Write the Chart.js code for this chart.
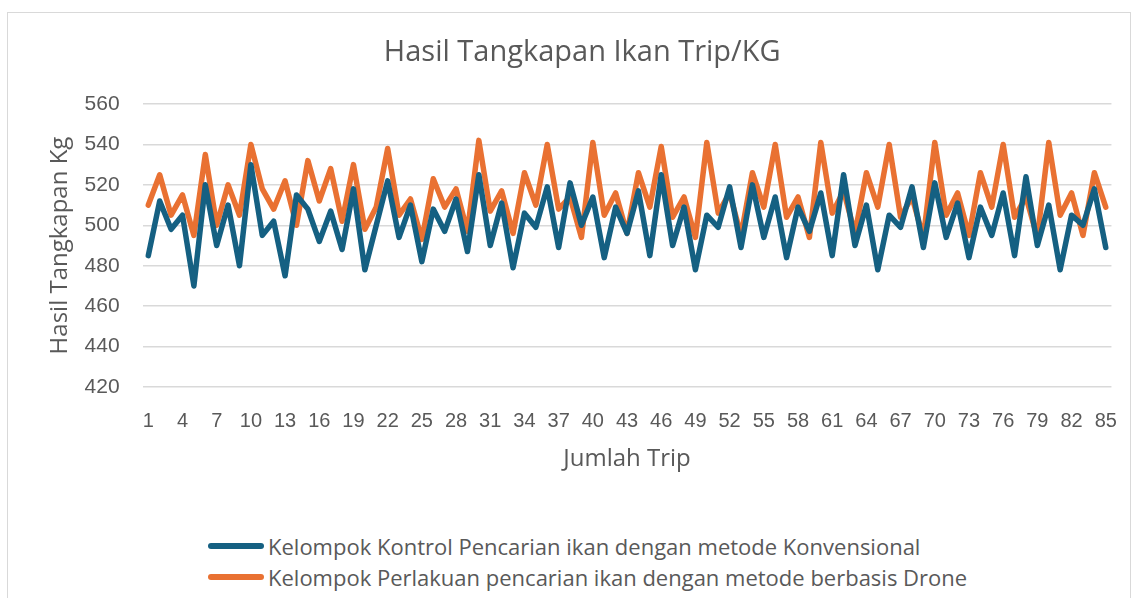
<!DOCTYPE html>
<html>
<head>
<meta charset="utf-8">
<title>Hasil Tangkapan Ikan Trip/KG</title>
<script src="https://cdn.jsdelivr.net/npm/chart.js@4.4.1/dist/chart.umd.min.js"></script>
<style>
  body { margin: 0; background: #fff; width: 1139px; height: 598px; overflow: hidden; position: relative; }
  .frame { position: absolute; left: 7px; top: 12px; width: 1124px; height: 640px; border: 1px solid #d9d9d9; box-sizing: border-box; }
  .chart-box { position: absolute; left: 0; top: 0; width: 1139px; height: 480px; }
  .legend { position: absolute; left: 208px; top: 530px; font-family: "Open Sans", "Liberation Sans", sans-serif; font-size: 22px; color: #595959; }
  .legend .row { display: flex; align-items: center; height: 31px; }
  .legend .swatch { width: 56px; height: 6px; border-radius: 3px; margin-right: 4px; }
</style>
</head>
<body>
<div class="frame"></div>
<div class="chart-box"><canvas id="tripChart"></canvas></div>
<div class="legend" id="legend"></div>

<script>
// Data
const trips = Array.from({ length: 85 }, (_, i) => String(i + 1));

const kontrol = [
  485, 512, 498, 505, 470, 520, 490, 510, 480, 530,
  495, 502, 475, 515, 508, 492, 507, 488, 518, 478,
  500, 522, 494, 510, 482, 508, 497, 513, 487, 525,
  490, 511, 479, 506, 499, 519, 489, 521, 500, 514,
  484, 509, 496, 517, 485, 525, 490, 509, 478, 505,
  499, 519, 489, 520, 494, 514, 484, 509, 497, 516,
  485, 525, 490, 510, 478, 505, 499, 519, 489, 521,
  494, 511, 484, 509, 495, 516, 485, 524, 490, 510,
  478, 505, 500, 518, 489
];

const drone = [
  510, 525, 505, 515, 495, 535, 500, 520, 505, 540,
  518, 508, 522, 500, 532, 512, 528, 502, 530, 498,
  509, 538, 505, 513, 493, 523, 509, 518, 497, 542,
  507, 517, 496, 526, 510, 540, 508, 514, 494, 541,
  505, 516, 496, 526, 509, 539, 504, 514, 494, 541,
  506, 516, 495, 526, 509, 540, 504, 514, 494, 541,
  506, 517, 496, 526, 509, 540, 504, 514, 494, 541,
  505, 516, 495, 526, 509, 540, 504, 514, 494, 541,
  505, 516, 495, 526, 509
];

const yTicks = [420, 440, 460, 480, 500, 520, 540, 560];

const seriesNames = [
  'Kelompok Kontrol Pencarian ikan dengan metode Konvensional',
  'Kelompok Perlakuan pencarian ikan dengan metode berbasis Drone'
];
const seriesColors = ['#156082', '#E97132'];

const textColor = '#595959';
const gridColor = '#d9d9d9';

const ctx = document.getElementById('tripChart');
new Chart(ctx, {
  type: 'line',
  data: {
    labels: trips,
    datasets: [kontrol, drone].map((vals, i) => ({
      label: seriesNames[i],
      data: vals,
      borderColor: seriesColors[i],
      backgroundColor: seriesColors[i],
      borderWidth: 5.5,
      borderJoinStyle: 'round',
      borderCapStyle: 'round',
      pointRadius: 0,
      tension: 0
    }))
  },
  options: {
    responsive: true,
    maintainAspectRatio: false,
    animation: false,
    layout: { padding: { left: 46, right: 20.6, top: 0, bottom: 6.6 } },
    plugins: {
      legend: { display: false },
      tooltip: { enabled: false },
      title: {
        display: true,
        text: 'Hasil Tangkapan Ikan Trip/KG',
        color: textColor,
        font: { family: '"Open Sans", "Liberation Sans", sans-serif', size: 29, weight: 'normal', lineHeight: 1.2 },
        padding: { top: 35.6, bottom: 33.6 }
      }
    },
    scales: {
      x: {
        type: 'category',
        offset: true,
        grid: { display: false, drawTicks: false },
        border: { display: false },
        ticks: {
          autoSkip: false,
          maxRotation: 0,
          padding: 22,
          color: textColor,
          font: { family: '"Liberation Sans", sans-serif', size: 20 },
          callback: (val, idx) => (idx % 3 === 0 ? trips[idx] : '')
        },
        title: {
          display: true,
          text: 'Jumlah Trip',
          color: textColor,
          font: { family: '"Open Sans", "Liberation Sans", sans-serif', size: 24, lineHeight: 1.2 },
          padding: { top: 0, bottom: 0 }
        },
        afterFit: scale => { scale.height = 86.4; }
      },
      y: {
        min: yTicks[0],
        max: yTicks[yTicks.length - 1],
        afterBuildTicks: scale => { scale.ticks = yTicks.map(v => ({ value: v })); },
        grid: { color: gridColor, lineWidth: 1.5, drawTicks: false },
        border: { display: false },
        ticks: {
          padding: 23,
          color: textColor,
          font: { family: '"Liberation Sans", sans-serif', size: 21 }
        },
        title: {
          display: true,
          text: 'Hasil Tangkapan Kg',
          color: textColor,
          font: { family: '"Open Sans", "Liberation Sans", sans-serif', size: 24, lineHeight: 1.2 },
          padding: { top: 0, bottom: 0 }
        },
        afterFit: scale => { scale.width = 96.6; }
      }
    }
  }
});

// Legend, stacked and left aligned like the original
const legendEl = document.getElementById('legend');
seriesNames.forEach((name, i) => {
  const row = document.createElement('div');
  row.className = 'row';
  row.innerHTML = `<span class="swatch" style="background:${seriesColors[i]}"></span><span>${name}</span>`;
  legendEl.appendChild(row);
});
</script>
</body>
</html>
